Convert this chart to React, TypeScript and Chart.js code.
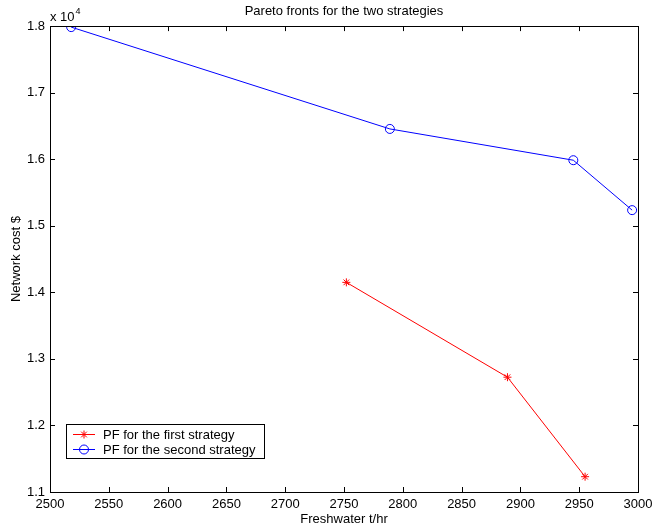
import React, { useEffect, useRef } from "react";
import { Chart, registerables } from "chart.js";

Chart.register(...registerables);

const firstX = [2752, 2889, 2955];
const firstY = [14150, 12725, 11230];
const secondX = [2518, 2789, 2945, 2995];
const secondY = [17985, 16455, 15985, 15235];
const xTicksMin = 2500;
const xTicksMax = 3000;
const yTicksMin = 11000;
const yTicksMax = 18000;
const seriesLabels = ["PF for the first strategy", "PF for the second strategy"];
const titleText = "Pareto fronts for the two strategies";
const xTitle = "Freshwater t/hr";
const yTitle = "Network cost $";

const FONT = "'Liberation Sans', Arial, Helvetica, sans-serif";
const FS = 13;

const boxPlugin = {
  id: "matlabBox",
  afterDraw(chart: any) {
    const { ctx, chartArea: a, scales } = chart;
    ctx.save();
    ctx.strokeStyle = "#000";
    ctx.lineWidth = 1;
    const L = 5;
    ctx.beginPath();
    const xs = scales.x;
    xs.ticks.forEach((_: any, i: number) => {
      const px = Math.round(xs.getPixelForTick(i)) + 0.5;
      ctx.moveTo(px, a.bottom);
      ctx.lineTo(px, a.bottom - L);
      ctx.moveTo(px, a.top);
      ctx.lineTo(px, a.top + L);
    });
    const ys = scales.y;
    ys.ticks.forEach((_: any, i: number) => {
      const py = Math.round(ys.getPixelForTick(i)) + 0.5;
      ctx.moveTo(a.left, py);
      ctx.lineTo(a.left + L, py);
      ctx.moveTo(a.right, py);
      ctx.lineTo(a.right - L, py);
    });
    ctx.stroke();
    ctx.strokeRect(Math.round(a.left) + 0.5, Math.round(a.top) + 0.5, Math.round(a.right - a.left), Math.round(a.bottom - a.top));

    // exponent label
    ctx.fillStyle = "#000";
    ctx.font = `${FS}px ${FONT}`;
    ctx.textAlign = "left";
    ctx.textBaseline = "alphabetic";
    ctx.fillText("x 10", a.left, a.top - 5);
    const w = ctx.measureText("x 10").width;
    ctx.font = `9px ${FONT}`;
    ctx.fillText("4", a.left + w + 1, a.top - 12);

    // legend
    const lx = a.left + 16;
    const ly = a.bottom - 68;
    const lw = 198;
    const lh = 34;
    ctx.fillStyle = "#fff";
    ctx.fillRect(lx, ly, lw, lh);
    ctx.strokeStyle = "#000";
    ctx.strokeRect(lx + 0.5, ly + 0.5, lw, lh);
    const entries = [
      { label: seriesLabels[0], color: "#ff0000", style: "star" },
      { label: seriesLabels[1], color: "#0000ff", style: "circle" },
    ];
    entries.forEach((e, i) => {
      const cy = ly + 10 + i * 15;
      ctx.strokeStyle = e.color;
      ctx.lineWidth = 1;
      ctx.beginPath();
      ctx.moveTo(lx + 7, cy + 0.5);
      ctx.lineTo(lx + 29, cy + 0.5);
      ctx.stroke();
      if (e.style === "circle") {
        ctx.beginPath();
        ctx.arc(lx + 18, cy + 0.5, 4.5, 0, Math.PI * 2);
        ctx.stroke();
      } else {
        const r = 4;
        ctx.beginPath();
        for (let k = 0; k < 4; k++) {
          const ang = (k * Math.PI) / 4;
          ctx.moveTo(lx + 18 - r * Math.cos(ang), cy + 0.5 - r * Math.sin(ang));
          ctx.lineTo(lx + 18 + r * Math.cos(ang), cy + 0.5 + r * Math.sin(ang));
        }
        ctx.stroke();
      }
      ctx.fillStyle = "#000";
      ctx.font = `${FS}px ${FONT}`;
      ctx.textBaseline = "middle";
      ctx.fillText(e.label, lx + 37, cy + 1);
    });
    ctx.restore();
  },
};

export default function App() {
  const ref = useRef<HTMLCanvasElement>(null);
  useEffect(() => {
    if (!ref.current) return;
    const chart = new Chart(ref.current, {
      type: "scatter",
      data: {
        datasets: [
          {
            label: seriesLabels[0],
            data: firstX.map((x, i) => ({ x, y: firstY[i] })),
            showLine: true,
            borderColor: "#ff0000",
            backgroundColor: "#ff0000",
            borderWidth: 1,
            pointStyle: "star",
            pointRadius: 4,
            pointBorderWidth: 1,
            pointBorderColor: "#ff0000",
          },
          {
            label: seriesLabels[1],
            data: secondX.map((x, i) => ({ x, y: secondY[i] })),
            showLine: true,
            borderColor: "#0000ff",
            backgroundColor: "rgba(0,0,0,0)",
            borderWidth: 1,
            pointStyle: "circle",
            pointRadius: 4.5,
            pointBorderWidth: 1,
            pointBorderColor: "#0000ff",
            pointBackgroundColor: "rgba(0,0,0,0)",
          },
        ],
      },
      options: {
        animation: false,
        responsive: false,
        devicePixelRatio: 1,
        layout: { padding: { left: 0, right: 14, top: 0, bottom: 0 } },
        plugins: {
          legend: { display: false },
          tooltip: { enabled: false },
          title: {
            display: true,
            fullSize: false,
            text: titleText,
            color: "#000",
            font: { family: FONT, size: FS, weight: "normal" },
            padding: { top: 4, bottom: 6.5 },
          },
        },
        scales: {
          x: {
            type: "linear",
            min: xTicksMin,
            max: xTicksMax,
            grid: { display: false, drawTicks: false },
            border: { display: false },
            ticks: {
              stepSize: 50,
              padding: 5,
              color: "#000",
              font: { family: FONT, size: FS },
              maxRotation: 0,
              autoSkip: false,
              callback: (v: any) => String(v),
            },
            title: {
              display: true,
              text: xTitle,
              color: "#000",
              font: { family: FONT, size: FS },
              padding: { top: 0, bottom: 2 },
            },
            afterFit: (s: any) => {
              s.height = 37;
              s.paddingLeft = 0;
              s.paddingRight = 0;
            },
          },
          y: {
            type: "linear",
            min: yTicksMin,
            max: yTicksMax,
            grid: { display: false, drawTicks: false },
            border: { display: false },
            ticks: {
              stepSize: 1000,
              padding: 5,
              color: "#000",
              font: { family: FONT, size: FS },
              callback: (v: any) => (Number(v) / 10000).toFixed(1),
              autoSkip: false,
            },
            title: {
              display: true,
              text: yTitle,
              color: "#000",
              font: { family: FONT, size: FS },
              padding: { top: 9, bottom: 0 },
            },
            afterFit: (s: any) => {
              s.width = 50;
            },
          },
        },
      },
      plugins: [boxPlugin],
    });
    return () => chart.destroy();
  }, []);
  return (
    <div style={{ position: "absolute", left: 0, top: 0, width: 652, height: 529, background: "#fff" }}>
      <canvas ref={ref} width={652} height={529} style={{ display: "block" }} />
    </div>
  );
}
